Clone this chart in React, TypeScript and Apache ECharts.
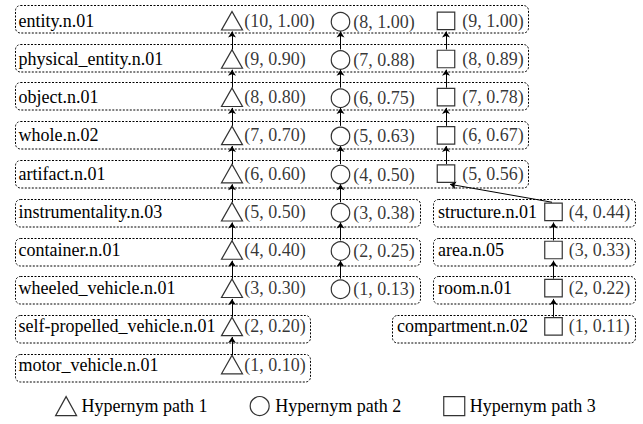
import React, { useEffect, useRef } from 'react';
import * as echarts from 'echarts';

// ---------- data ----------
const path1Names = [
  'entity.n.01',
  'physical_entity.n.01',
  'object.n.01',
  'whole.n.02',
  'artifact.n.01',
  'instrumentality.n.03',
  'container.n.01',
  'wheeled_vehicle.n.01',
  'self-propelled_vehicle.n.01',
  'motor_vehicle.n.01',
];
const path1Depths = [10, 9, 8, 7, 6, 5, 4, 3, 2, 1];
const path1Scores = [1.0, 0.9, 0.8, 0.7, 0.6, 0.5, 0.4, 0.3, 0.2, 0.1];

const path2Depths = [8, 7, 6, 5, 4, 3, 2, 1];
const path2Scores = [1.0, 0.88, 0.75, 0.63, 0.5, 0.38, 0.25, 0.13];

const path3Depths = [9, 8, 7, 6, 5, 4, 3, 2, 1];
const path3Scores = [1.0, 0.89, 0.78, 0.67, 0.56, 0.44, 0.33, 0.22, 0.11];
const path3BranchNames = ['structure.n.01', 'area.n.05', 'room.n.01', 'compartment.n.02'];

const legendNames = ['Hypernym path 1', 'Hypernym path 2', 'Hypernym path 3'];

// ---------- layout ----------
const FONT = '"Times New Roman", "Liberation Serif", "DejaVu Serif", serif';
const COL = { p1: 232, p2: 340.5, p3a: 446, p3b: 553.5 };
const TRUNK3 = 5; // path 3 nodes in the shared column
const BRANCH_START_ROW = 5;

const fmt = (d: number, s: number) => `(${d}, ${s.toFixed(2)})`;

type Node = { x: number; row: number };
const nodes1: Node[] = path1Depths.map((_, i) => ({ x: COL.p1, row: i }));
const nodes2: Node[] = path2Depths.map((_, i) => ({ x: COL.p2, row: i }));
const nodes3: Node[] = path3Depths.map((_, i) => ({ x: i < TRUNK3 ? COL.p3a : COL.p3b, row: i }));

const EDGE_START = 0.25;
const EDGE_END = 0.28;
function edgesOf(nodes: Node[]) {
  const out: any[] = [];
  for (let i = 1; i < nodes.length; i++) {
    const lo = nodes[i];
    const up = nodes[i - 1];
    const dx = lo.x !== up.x ? 4 : 0;
    out.push({
      coords: [
        [lo.x - (dx ? 1.5 : 0), lo.row - EDGE_START],
        [up.x + dx, up.row + EDGE_END],
      ],
    });
  }
  return out;
}
const edges = [...edgesOf(nodes1), ...edgesOf(nodes2), ...edgesOf(nodes3)];

type Box = { x0: number; x1: number; row: number; tx: number; name: string };
const boxes: Box[] = [];
path1Names.forEach((name, r) => {
  const x1 = r < BRANCH_START_ROW ? 528 : r < 8 ? 420 : 310;
  boxes.push({ x0: 15, x1, row: r, tx: 18.5, name });
});
path3BranchNames.forEach((name, k) => {
  const r = BRANCH_START_ROW + k;
  const x0 = r === 8 ? 392 : 433;
  boxes.push({ x0, x1: 635, row: r, tx: x0 + 5, name });
});

const labelBase = {
  show: true,
  position: 'right' as const,
  color: '#000',
  fontSize: 18,
  fontFamily: FONT,
};
const nodeItem = {
  color: '#fff',
  borderColor: '#000',
  borderWidth: 1.2,
};

export default function App() {
  const ref = useRef<HTMLDivElement>(null);
  useEffect(() => {
    if (!ref.current) return;
    const chart = echarts.init(ref.current, undefined, { renderer: 'svg' });
    const option: any = {
      animation: false,
      backgroundColor: '#fff',
      textStyle: { fontFamily: FONT },
      grid: { left: 0, right: 0, top: 0, bottom: 34, containLabel: false },
      xAxis: { type: 'value', min: 0, max: 643, show: false },
      yAxis: [
        { type: 'value', inverse: true, min: -0.5445, max: 9.665, show: false },
        { type: 'value', inverse: true, min: -0.4825, max: 9.5796, show: false },
      ],
      legend: {
        left: 55,
        top: 396,
        padding: 0,
        itemWidth: 21,
        itemHeight: 19,
        itemGap: 42,
        selectedMode: false,
        data: [
          { name: legendNames[0], icon: 'triangle' },
          { name: legendNames[1], icon: 'circle' },
          { name: legendNames[2], icon: 'rect' },
        ],
        itemStyle: { color: '#fff', borderColor: '#000', borderWidth: 1.2 },
        textStyle: { color: '#000', fontSize: 18, fontFamily: FONT },
      },
      series: [
        {
          type: 'custom',
          name: 'boxes',
          yAxisIndex: 1,
          silent: true,
          data: boxes.map((b) => [b.x0, b.x1, b.row]),
          renderItem: (params: any, api: any) => {
            const b = boxes[params.dataIndex];
            const p0 = api.coord([b.x0, b.row]);
            const p1 = api.coord([b.x1, b.row]);
            const h = 27.5;
            return {
              type: 'rect',
              shape: { x: p0[0] + 0.5, y: Math.round(p0[1] - h / 2) + 0.5, width: p1[0] - p0[0], height: h, r: 5 },
              style: { fill: 'none', stroke: '#000', lineWidth: 1, lineDash: [2, 1.5] },
            };
          },
        },
        {
          type: 'custom',
          name: 'names',
          yAxisIndex: 0,
          silent: true,
          data: boxes.map((b) => [b.tx, b.row]),
          renderItem: (params: any, api: any) => {
            const b = boxes[params.dataIndex];
            const p = api.coord([b.tx, b.row]);
            return {
              type: 'text',
              x: p[0],
              y: p[1],
              style: {
                text: b.name,
                fill: '#000',
                fontSize: 18,
                fontFamily: FONT,
                align: 'left',
                verticalAlign: 'middle',
              },
            };
          },
        },
        {
          type: 'lines',
          coordinateSystem: 'cartesian2d',
          yAxisIndex: 0,
          silent: true,
          symbol: ['none', 'arrow'],
          symbolSize: [0, 6],
          lineStyle: { color: '#000', width: 1, opacity: 1, curveness: 0 },
          data: edges,
        },
        {
          type: 'scatter',
          name: legendNames[0],
          yAxisIndex: 0,
          silent: true,
          symbol: 'triangle',
          symbolSize: [21, 18.5],
          itemStyle: nodeItem,
          label: { ...labelBase, distance: 1, formatter: (p: any) => fmt(path1Depths[p.dataIndex], path1Scores[p.dataIndex]) },
          data: nodes1.map((n) => [n.x, n.row]),
        },
        {
          type: 'scatter',
          name: legendNames[1],
          yAxisIndex: 0,
          silent: true,
          symbol: 'circle',
          symbolSize: 18.5,
          symbolOffset: [0, 1],
          itemStyle: nodeItem,
          label: { ...labelBase, distance: 3, formatter: (p: any) => fmt(path2Depths[p.dataIndex], path2Scores[p.dataIndex]) },
          data: nodes2.map((n) => [n.x, n.row]),
        },
        {
          type: 'scatter',
          name: legendNames[2],
          yAxisIndex: 0,
          silent: true,
          symbol: 'rect',
          symbolSize: 17.5,
          itemStyle: nodeItem,
          label: { ...labelBase, distance: 7, formatter: (p: any) => fmt(path3Depths[p.dataIndex], path3Scores[p.dataIndex]) },
          data: nodes3.map((n, i) => ({ value: [n.x, n.row], label: { distance: i < TRUNK3 ? 7 : 6 } })),
        },
      ],
    };
    chart.setOption(option);
    return () => chart.dispose();
  }, []);
  return <div ref={ref} style={{ position: 'absolute', left: 0, top: 0, width: 643, height: 424 }} />;
}
